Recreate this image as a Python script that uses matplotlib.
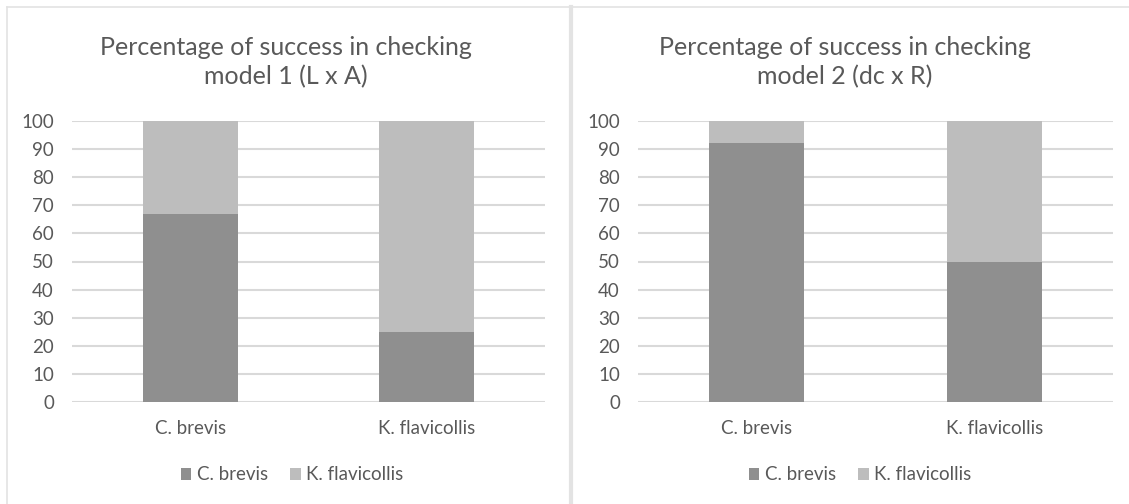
import matplotlib.pyplot as plt
from matplotlib.lines import Line2D

# datos
categorias = ['C. brevis', 'K. flavicollis']
series = ['C. brevis', 'K. flavicollis']
modelo1_cbrevis = [67, 25]
modelo1_kflavicollis = [33, 75]
modelo2_cbrevis = [92, 50]
modelo2_kflavicollis = [8, 50]
titulos = ['Percentage of success in checking\nmodel 1 (L x A)',
           'Percentage of success in checking\nmodel 2 (dc x R)']
ticks_y = [0, 10, 20, 30, 40, 50, 60, 70, 80, 90, 100]

oscuro = '#8f8f8f'
claro = '#bdbdbd'
texto = '#595959'
rejilla = '#d9d9d9'

plt.rcParams['font.family'] = ['Lato', 'DejaVu Sans']

fig = plt.figure(figsize=(11.29, 5.04), dpi=100)
W, H = 1129, 504


def px(x0, y0, x1, y1):
    return [x0 / W, 1 - y1 / H, (x1 - x0) / W, (y1 - y0) / H]


# (area del eje, serie abajo, serie arriba, titulo, centro titulo, centro leyenda)
paneles = [
    (px(72, 121, 545, 402), modelo1_cbrevis, modelo1_kflavicollis, titulos[0], 286, 292),
    (px(638, 121, 1113, 402), modelo2_cbrevis, modelo2_kflavicollis, titulos[1], 845, 860),
]

for rect, abajo, arriba, titulo, centro, centro_ley in paneles:
    ax = fig.add_axes(rect)
    x = range(len(categorias))
    ax.bar(x, abajo, width=0.4, color=oscuro, label=series[0], zorder=2)
    ax.bar(x, arriba, width=0.4, bottom=abajo, color=claro, label=series[1], zorder=2)
    ax.set_xlim(-0.5, 1.5)
    ax.set_ylim(0, 100)
    ax.set_yticks(ticks_y)
    ax.set_xticks(list(x))
    ax.set_xticklabels(categorias)
    for s in ax.spines.values():
        s.set_visible(False)
    ax.yaxis.grid(True, color=rejilla, linewidth=1.5, zorder=0)
    ax.set_axisbelow(True)
    ax.tick_params(axis='both', length=0, colors=texto, labelsize=13.5)
    ax.tick_params(axis='x', pad=13)
    ax.tick_params(axis='y', pad=13)
    fig.text(centro / W, 1 - 62 / H, titulo, ha='center', va='center',
             fontsize=18, color=texto, linespacing=1.3)
    fig.legend(handles=ax.get_legend_handles_labels()[0], labels=series,
               loc='center', bbox_to_anchor=(centro_ley / W, 1 - 475 / H),
               ncol=2, frameon=False, fontsize=13.5, labelcolor=texto,
               handlelength=0.55, handleheight=0.55, handletextpad=0.3,
               columnspacing=1.2)

# bordes de los paneles
borde = '#e3e3e3'
fig.add_artist(Line2D([7 / W, 1], [1 - 7 / H] * 2, color=borde, lw=1.2))
fig.add_artist(Line2D([7 / W] * 2, [0, 1 - 7 / H], color=borde, lw=1.2))
fig.add_artist(Line2D([571 / W] * 2, [0, 1 - 7 / H], color=borde, lw=3))

fig.savefig('out.png', dpi=100)
